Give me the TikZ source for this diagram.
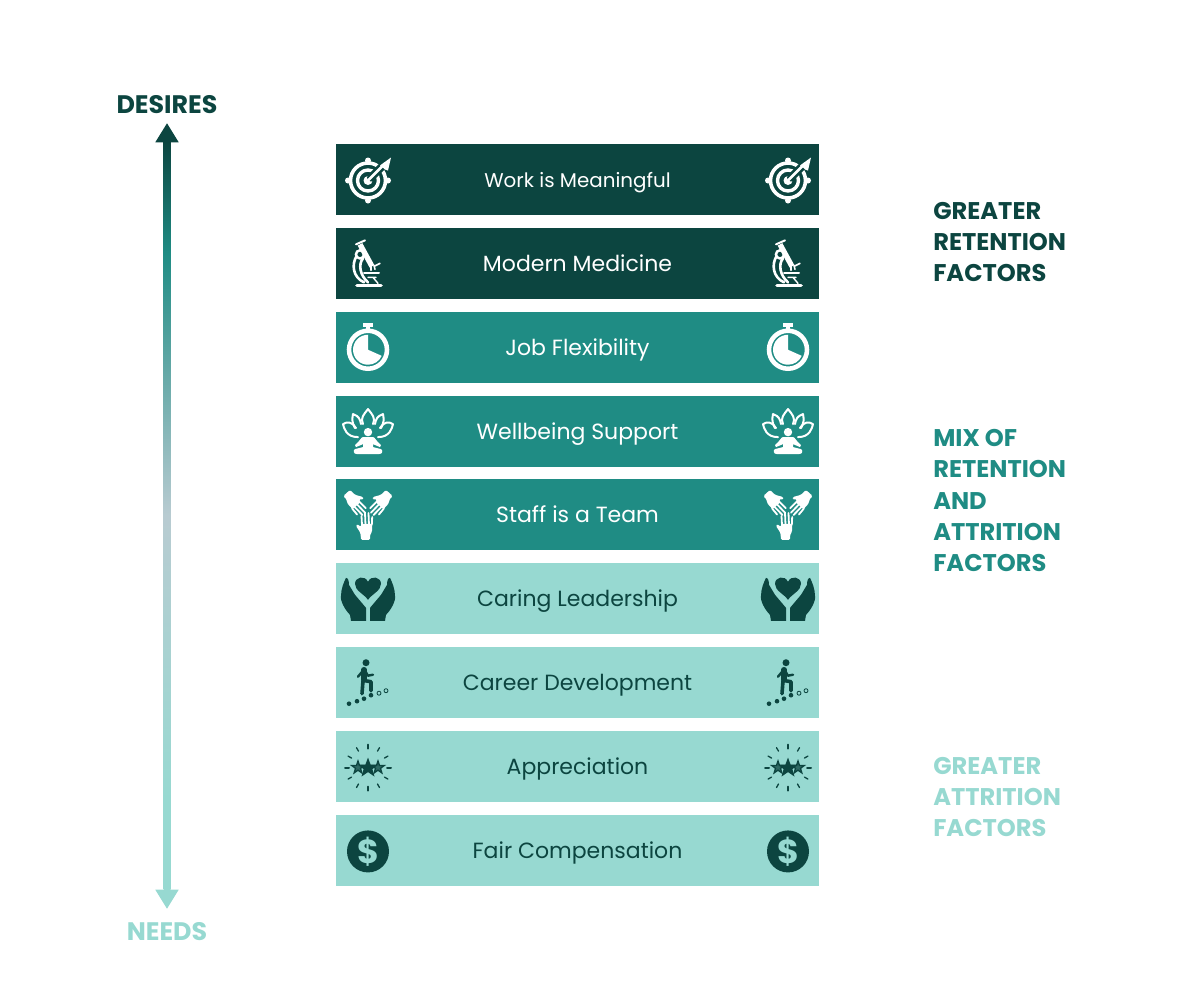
\documentclass[tikz,border=0pt]{standalone}
\usepackage{xcolor}
\usepackage{fontspec}
\setmainfont{Poppins}
\usepackage{tikz}
\usetikzlibrary{positioning, arrows.meta, calc}
\definecolor{darkteal}{HTML}{0C4540}
\definecolor{midteal}{HTML}{1F8C84}
\definecolor{lightteal}{HTML}{97D9D1}
\definecolor{greyteal}{HTML}{B8CBD1}
\pgfdeclareverticalshading{needramp}{100bp}{color(0bp)=(lightteal); color(31bp)=(lightteal);
    color(50bp)=(greyteal); color(67.5bp)=(midteal); color(75bp)=(darkteal); color(100bp)=(darkteal)}
\tikzset{
    x=0.75pt, y=-0.75pt,
    factorbar/.style={minimum width=362.25pt, minimum height=53.25pt, inner sep=0pt, outer sep=0pt,
        text height=15pt, text depth=3pt, font=\fontsize{16.5pt}{20pt}\selectfont},
    darkbar/.style={factorbar, fill=darkteal, text=white},
    midbar/.style={factorbar, fill=midteal, text=white},
    lightbar/.style={factorbar, fill=lightteal, text=darkteal},
    factorlabel/.style={anchor=west, align=left, inner sep=0pt, font=\fontsize{18.1pt}{23.3pt}\selectfont\bfseries},
    axislabel/.style={inner sep=0pt, font=\fontsize{19pt}{20pt}\selectfont\bfseries},
    axishead/.style={line width=4.5pt, -{Triangle[length=14.5pt, width=16.5pt]}},
    iconline/.style={line width=#1*0.75pt, line cap=round, line join=round},
    targeticon/.pic={
        \draw[white, iconline=3.6] (0,0) circle (17.5);
        \foreach \a in {0,90,180,270} {\fill[white] (\a:20) circle (3);}
        \draw[white, iconline=3.4] (0,0) circle (10.5);
        \fill[white] (0,0) circle (4.5);
        \draw[darkteal, iconline=8] (3,-3) -- (19,-19);
        \draw[white, iconline=2.8] (0,0) -- (17,-17);
        \fill[white] (12,-15) -- (23,-23) -- (20,-10) -- (17,-11) -- (15,-13) -- cycle;
    },
    microscopeicon/.pic={
        \draw[white, iconline=3.6] (-11,21) -- (13,21);
        \draw[white, iconline=2.6] (-11,-9) .. controls (-17,0) and (-15,13) .. (-4,18)
            (-5,-6) .. controls (-10,0) and (-8,11) .. (0,18);
        \fill[white] (-8,-10) circle (5.4);
        \fill[darkteal] (-8,-10) circle (2.6);
        \draw[white, line width=4pt] (-8,-20) -- (4,2);
        \draw[white, iconline=2] (-12,-20) -- (-3,-24);
        \draw[white, iconline=1.6] (3,6) -- (3,2) (7,5) -- (6,1) (12,-1) -- (6,2);
        \draw[white, iconline=2] (-4,9) -- (11,9);
        \draw[white, iconline=1.4] (0,13) -- (8,13) (5,13) -- (10,19);
    },
    watchicon/.pic={
        \draw[white, line width=3.4pt] (0,1.5) circle (19);
        \fill[white] (-5,-25.5) rectangle (5,-21.5);
        \fill[white] (-2,-22) rectangle (2,-17);
        \fill[white] (0,1.5) -- (0,-13.5) arc[start angle=-90, delta angle=-246, radius=15] -- cycle;
    },
    lotusicon/.pic={
        \draw[white, iconline=2] (-5,-8) .. controls (-8,-14) and (-4,-18) .. (0,-23) .. controls (4,-18) and (8,-14) .. (5,-8);
        \foreach \s in {1,-1} {
            \begin{scope}[xscale=\s]
                \draw[white, iconline=2] (7,-8) .. controls (8,-13) and (9,-16) .. (15,-18) .. controls (16,-13) and (16,-9) .. (13,-4);
                \draw[white, iconline=2] (10,5) .. controls (22,5) and (24,-4) .. (25,-8) .. controls (21,-11) and (15,-10) .. (12,-4);
                \fill[white] (0,5) -- (5,5) .. controls (7,5) and (8,9) .. (13,13) -- (12,15) -- (5,12) -- (5,15) -- (13,17) .. controls (15,18) and (15,22) .. (11,22) -- (0,22) -- cycle;
            \end{scope}
        }
        \fill[white] (0,0) circle (4.2);
    },
    handicon/.pic={
        \fill[white, rounded corners=1pt] (-5,13) -- (-5.5,6) -- (-10,-1) -- (-9,-3) -- (-5,0) -- (-5,-3) -- (6,-3) -- (6,5) -- (4,8) -- (4,13) -- cycle;
        \draw[white, iconline=1.8] (-4,-2) -- (-4.5,-11) (-0.5,-2) -- (-1,-14) (3,-2) -- (2.5,-14) (5.8,-2) -- (6.2,-10);
    },
    teamicon/.pic={
        \pic at (-2,11) {handicon};
        \pic[rotate=-138] at (-13,-13) {handicon};
        \pic[rotate=138, xscale=-1] at (13,-13) {handicon};
    },
    caringicon/.pic={
        \fill[darkteal] (0,0) .. controls (-4,-6) and (-13,-9) .. (-13,-16) .. controls (-13,-23) and (-3,-25) .. (0,-18) .. controls (3,-25) and (13,-23) .. (13,-16) .. controls (13,-9) and (4,-6) .. (0,0) -- cycle;
        \foreach \s in {1,-1} {
            \fill[darkteal, xscale=\s] (-22,-22) .. controls (-20,-22) and (-19,-19) .. (-19,-15) -- (-13,-5) -- (-2,8) -- (-2,21) -- (-17,21) -- (-18,15) .. controls (-23,10) and (-28,1) .. (-27,-4) .. controls (-27,-11) and (-24,-18) .. (-22,-22) -- cycle;
        }
    },
    careericon/.pic={
        \fill[darkteal] (-2,-21) circle (3.5);
        \draw[darkteal, iconline=5.5] (-4,-14) -- (-4,-4);
        \draw[darkteal, iconline=3.6] (-5,-3) -- (-6,10) (-3,-3) -- (3,-2) -- (3,7);
        \draw[darkteal, iconline=2.4] (-5,-13) -- (-10,-7) (-3,-13) -- (0,-8) -- (5,-9);
        \fill[darkteal] (-19,20) circle (2.3) (-11,17.5) circle (2.3) (-4,15) circle (2.3) (3,11.5) circle (2.3);
        \draw[darkteal, line width=0.6pt] (11,9.5) circle (2) (18,7) circle (2);
    },
    starsicon/.pic={
        \foreach \a in {0,90,180,270} {\draw[darkteal, iconline=2] (\a:19) -- (\a:23);}
        \foreach \a in {30,60,120,150,210,240,300,330} {\draw[darkteal, iconline=1.3] (\a:19) -- (\a:23);}
        \foreach \c in {-10,10} {
            \draw[darkteal, fill=darkteal!75!lightteal, line width=1pt, line join=miter] (\c,0) +(-90:6.5) -- +(-54:2.6) -- +(-18:6.5) -- +(18:2.6) -- +(54:6.5) -- +(90:2.6) -- +(126:6.5) -- +(162:2.6) -- +(198:6.5) -- +(234:2.6) -- cycle;
        }
        \fill[darkteal] (0,-10) -- (2.6,-3) -- (10,-3) -- (4.4,1.6) -- (6.5,9) -- (0,4.5) -- (-6.5,9) -- (-4.4,1.6) -- (-10,-3) -- (-2.6,-3) -- cycle;
    },
    dollaricon/.pic={
        \node[circle, fill=darkteal, minimum size=31.5pt, inner sep=0pt, text=lightteal,
              font=\fontsize{25pt}{25pt}\selectfont\bfseries] {\$};
    },
}
\newcommand{\baricons}[2]{%
    \pic at ($(#1.west)+(32,1)$) {#2};
    \pic at ($(#1.east)+(-31,1)$) {#2};
}
\begin{document}
\begin{tikzpicture}
    \useasboundingbox (0,0) rectangle (1204,990);
    \node[darkbar, font=\fontsize{14.9pt}{20pt}\selectfont] (work) at (577.5,179.5) {Work is Meaningful};
    \node[darkbar, below=9.65pt of work] (medicine) {Modern Medicine};
    \node[midbar, below=9.65pt of medicine] (flexibility) {Job Flexibility};
    \node[midbar, below=9.65pt of flexibility] (wellbeing) {Wellbeing Support};
    \node[midbar, below=9.65pt of wellbeing] (team) {Staff is a Team};
    \node[lightbar, below=9.65pt of team] (leadership) {Caring Leadership};
    \node[lightbar, below=9.65pt of leadership] (career) {Career Development};
    \node[lightbar, below=9.65pt of career] (appreciation) {Appreciation};
    \node[lightbar, below=9.65pt of appreciation] (compensation) {Fair Compensation};

    \baricons{work}{targeticon}
    \baricons{medicine}{microscopeicon}
    \baricons{flexibility}{watchicon}
    \baricons{wellbeing}{lotusicon}
    \baricons{team}{teamicon}
    \baricons{leadership}{caringicon}
    \baricons{career}{careericon}
    \baricons{appreciation}{starsicon}
    \baricons{compensation}{dollaricon}

    \node[axislabel, text=darkteal] (desires) at (167,105) {DESIRES};
    \node[axislabel, text=lightteal] (needs) at (167,932) {NEEDS};
    \coordinate (uptip) at (167,123);
    \coordinate (upbase) at (167,141);
    \coordinate (downtip) at (167,909);
    \coordinate (downbase) at (167,889);
    \shade[shading=needramp] ($(upbase)+(-3.5,0)$) rectangle ($(downbase)+(3.5,0)$);
    \draw[axishead, darkteal] (upbase) -- (uptip);
    \draw[axishead, lightteal] (downbase) -- (downtip);

    \node[factorlabel, text=darkteal] (retention) at (933,242) {GREATER\\RETENTION\\FACTORS};
    \node[factorlabel, text=midteal] (mix) at (933,500.5) {MIX OF\\RETENTION\\AND\\ATTRITION\\FACTORS};
    \node[factorlabel, text=lightteal] (attrition) at (933,797) {GREATER\\ATTRITION\\FACTORS};
\end{tikzpicture}
\end{document}
